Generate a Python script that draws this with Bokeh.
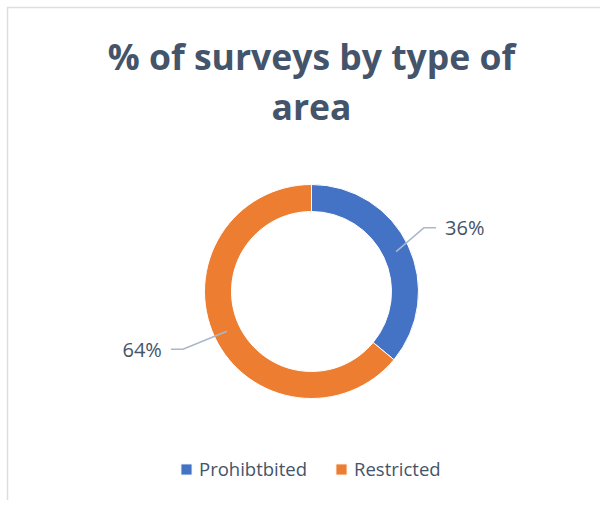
import numpy as np
from bokeh.plotting import figure
from bokeh.models import Range1d, Legend, LegendItem, ColumnDataSource
from bokeh.core.properties import value
from bokeh.embed import file_html
from bokeh.resources import INLINE

# ---- data ----
categories = ["Prohibtbited", "Restricted"]
shares = [36, 64]
labels = ["36%", "64%"]
colors = ["#4472C4", "#ED7D31"]

title_lines = ["% of surveys by type of", "area"]

# ---- layout constants (page pixels; data units == pixels) ----
W, H = 600, 500
PAGE_H = 505
cx, cy = 311, PAGE_H - 291
r_out, r_in = 107, 80
r_mid = (r_out + r_in) / 2
label_dx = [49, -65]
label_dy = [-24, 18]   # page pixels (down positive)

FONT = "Open Sans"
TXT = "#44546A"

p = figure(width=W, height=H, output_backend="svg", toolbar_location=None,
           x_range=Range1d(0, W), y_range=Range1d(PAGE_H - H, PAGE_H),
           min_border=0, outline_line_color=None,
           background_fill_color="white", border_fill_color="white")
p.axis.visible = False
p.grid.visible = False

# chart-area border (top and left edges visible)
p.line(x=[7, 7, W], y=[0, PAGE_H - 7, PAGE_H - 7], line_color="#D9DDE5", line_width=1.5)

vals = np.array(shares, dtype=float)
frac = vals / vals.sum()
cum = np.concatenate([[0], np.cumsum(frac)])
start = np.pi / 2 - 2 * np.pi * cum[:-1]
end = np.pi / 2 - 2 * np.pi * cum[1:]
mid = (start + end) / 2

renderers = []
for i in range(len(categories)):
    r = p.annular_wedge(x=cx, y=cy, inner_radius=r_in, outer_radius=r_out,
                        inner_radius_units="screen", outer_radius_units="screen",
                        start_angle=start[i], end_angle=end[i], direction="clock",
                        fill_color=colors[i], line_color="white", line_width=1)
    renderers.append(r)

# leader lines and labels
xs, ys, tx, ty, aligns = [], [], [], [], []
for i in range(len(categories)):
    px = cx + r_mid * np.cos(mid[i])
    py = cy + r_mid * np.sin(mid[i])
    lx = px + label_dx[i]
    ly = py - label_dy[i]
    sgn = 1 if label_dx[i] > 0 else -1
    xs.append([px, lx - sgn * 21, lx - sgn * 9])
    ys.append([py, ly, ly])
    tx.append(lx)
    ty.append(ly)
    aligns.append("left" if sgn > 0 else "right")

p.multi_line(xs=xs, ys=ys, line_color="#A9B8CC", line_width=1.5)
src = ColumnDataSource(dict(x=tx, y=ty, t=labels, a=aligns))
p.text(x="x", y="y", text="t", source=src, text_align="a", text_baseline="middle",
       text_font=value(FONT), text_font_size="20px", text_color=TXT)

# title
p.text(x=[cx, cx], y=[PAGE_H - 55, PAGE_H - 105], text=title_lines,
       text_align="center", text_baseline="alphabetic",
       text_font=value(FONT), text_font_size="35.5px", text_font_style="bold",
       text_color=TXT)

legend = Legend(items=[LegendItem(label=categories[i], renderers=[renderers[i]])
                       for i in range(len(categories))],
                orientation="horizontal", location=(179, 19),
                glyph_width=14, glyph_height=14, label_standoff=6, spacing=27,
                padding=0, margin=0, border_line_color=None,
                background_fill_alpha=0,
                label_text_font=FONT, label_text_font_size="18.5px",
                label_text_color=TXT)
p.add_layout(legend, "center")

open("out.html", "w").write(file_html(p, INLINE))
